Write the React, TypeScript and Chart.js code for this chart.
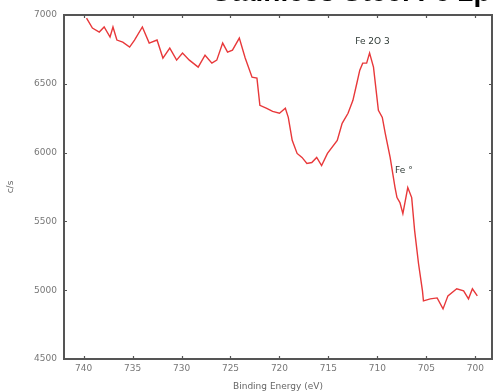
import React, { useEffect, useRef } from "react";
import { Chart, registerables } from "chart.js";

Chart.register(...registerables);

const TITLE = "Stainless Steel Fe 2p";
const X_TITLE = "Binding Energy (eV)";
const Y_TITLE = "c/s";
const X_TICKS = [740, 735, 730, 725, 720, 715, 710, 705, 700];
const Y_TICKS = [4500, 5000, 5500, 6000, 6500, 7000];

const energy = [
  739.7, 739.1, 738.4, 737.9, 737.3, 737.0, 736.6, 736.0, 735.3, 734.8,
  734.0, 733.3, 732.5, 731.9, 731.2, 730.5, 729.9, 729.2, 728.3, 727.6,
  726.9, 726.4, 725.8, 725.3, 724.8, 724.1, 723.5, 722.8, 722.3, 722.0,
  721.3, 720.7, 720.0, 719.4, 719.1, 718.7, 718.2, 717.7, 717.2, 716.7,
  716.2, 715.7, 715.1, 714.1, 713.6, 713.0, 712.5, 712.1, 711.8, 711.5,
  711.1, 710.8, 710.4, 709.9, 709.5, 709.2, 708.7, 708.2, 708.0, 707.7,
  707.4, 706.9, 706.5, 706.2, 705.8, 705.4, 705.3, 704.6, 703.9, 703.3,
  702.8, 701.9, 701.2, 700.7, 700.3, 699.8,
];
const counts = [
  6978, 6905, 6876, 6913, 6840, 6913, 6818, 6803, 6767, 6818,
  6913, 6796, 6818, 6687, 6759, 6672, 6723, 6672, 6621, 6708,
  6650, 6672, 6796, 6730, 6745, 6832, 6687, 6548, 6541, 6344,
  6322, 6300, 6286, 6322, 6256, 6089, 5994, 5965, 5921, 5928,
  5965, 5906, 5994, 6089, 6213, 6286, 6380, 6504, 6599, 6650,
  6650, 6723, 6621, 6307, 6256, 6140, 5965, 5746, 5673, 5637,
  5557, 5746, 5673, 5433, 5192, 4995, 4922, 4937, 4944, 4864,
  4959, 5010, 4995, 4937, 5010, 4959,
];

const ANNOTATIONS = [
  { text: "Fe 2O 3", x: 710.5, y: 6805 },
  { text: "Fe °", x: 707.3, y: 5870 },
];

const framePlugin = {
  id: "frame",
  afterDraw(chart: any) {
    const { ctx, chartArea: a, scales } = chart;
    ctx.save();
    ctx.strokeStyle = "#555";
    ctx.lineWidth = 2;
    ctx.strokeRect(a.left, a.top, a.right - a.left, a.bottom - a.top);
    ctx.lineWidth = 1.2;
    ctx.beginPath();
    scales.x.ticks.forEach((t: any) => {
      const px = Math.round(scales.x.getPixelForValue(t.value)) + 0.5;
      ctx.moveTo(px, a.bottom);
      ctx.lineTo(px, a.bottom - 3);
      ctx.moveTo(px, a.top);
      ctx.lineTo(px, a.top + 3);
    });
    scales.y.ticks.forEach((t: any) => {
      const py = Math.round(scales.y.getPixelForValue(t.value)) + 0.5;
      ctx.moveTo(a.left, py);
      ctx.lineTo(a.left + 3, py);
      ctx.moveTo(a.right, py);
      ctx.lineTo(a.right - 3, py);
    });
    ctx.stroke();

    ctx.fillStyle = "#2f3a36";
    ctx.font = "9px 'DejaVu Sans', sans-serif";
    ctx.textAlign = "center";
    ctx.textBaseline = "middle";
    ANNOTATIONS.forEach((n) => {
      ctx.fillText(n.text, scales.x.getPixelForValue(n.x), scales.y.getPixelForValue(n.y));
    });

    ctx.fillStyle = "#000";
    ctx.font = "bold 28px 'Liberation Sans', Arial, sans-serif";
    ctx.textAlign = "left";
    ctx.textBaseline = "alphabetic";
    ctx.fillText(TITLE, 212, 0.5);
    ctx.restore();
  },
};

export default function App() {
  const ref = useRef<HTMLCanvasElement>(null);
  useEffect(() => {
    document.body.style.margin = "0";
    const chart = new Chart(ref.current!, {
      type: "line",
      data: {
        datasets: [
          {
            data: energy.map((e, i) => ({ x: e, y: counts[i] })),
            borderColor: "#e8383a",
            borderWidth: 1.4,
            pointRadius: 0,
            tension: 0,
            fill: false,
          },
        ],
      },
      options: {
        responsive: false,
        animation: false,
        layout: { padding: { top: 15, right: 2, left: 0, bottom: 0 } },
        plugins: { legend: { display: false }, tooltip: { enabled: false } },
        scales: {
          x: {
            type: "linear",
            reverse: true,
            min: 698.3,
            max: 742,
            afterBuildTicks: (s: any) => {
              s.ticks = X_TICKS.map((v) => ({ value: v }));
            },
            afterFit: (s: any) => {
              s.height = 33;
            },
            grid: { display: false, drawTicks: false },
            border: { display: false },
            ticks: {
              padding: 4,
              color: "#777",
              font: { family: "'DejaVu Sans', sans-serif", size: 9 },
              callback: (v: any) => String(v),
            },
            title: {
              display: true,
              text: X_TITLE,
              color: "#666",
              font: { family: "'DejaVu Sans', sans-serif", size: 9 },
              padding: { top: 0, bottom: 0 },
            },
          },
          y: {
            min: 4500,
            max: 7000,
            afterBuildTicks: (s: any) => {
              s.ticks = Y_TICKS.map((v) => ({ value: v }));
            },
            afterFit: (s: any) => {
              s.width = 64;
            },
            grid: { display: false, drawTicks: false },
            border: { display: false },
            ticks: {
              padding: 7,
              color: "#777",
              font: { family: "'DejaVu Sans', sans-serif", size: 9 },
              callback: (v: any) => String(v),
            },
            title: {
              display: true,
              text: Y_TITLE,
              color: "#666",
              font: { family: "'DejaVu Sans', sans-serif", size: 9 },
              padding: { top: 5, bottom: 0 },
            },
          },
        },
      },
      plugins: [framePlugin],
    });
    return () => chart.destroy();
  }, []);
  return (
    <div style={{ width: 494, height: 392, background: "#fff" }}>
      <canvas ref={ref} width={494} height={392} />
    </div>
  );
}
